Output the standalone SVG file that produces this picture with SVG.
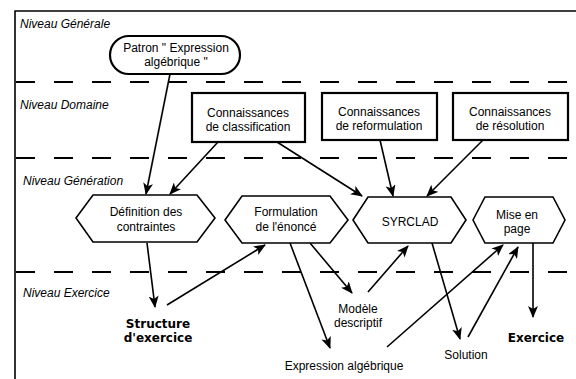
<svg xmlns="http://www.w3.org/2000/svg" width="576" height="379" viewBox="0 0 576 379">
  <style>
    .lvl { font-family: "Liberation Sans", Arial, sans-serif; font-size: 12px; font-style: italic; fill: #000; }
    .lbl { font-family: "Liberation Sans", Arial, sans-serif; font-size: 12px; fill: #000; text-anchor: middle; }
    .bold { font-family: "DejaVu Sans", Verdana, sans-serif; font-size: 12px; font-weight: bold; fill: #000; text-anchor: middle; }
    .sep { stroke: #000; stroke-width: 2; stroke-dasharray: 19 19; fill: none; }
    .box { fill: #fff; stroke: #000; stroke-width: 2.2; }
    .hex { fill: #fff; stroke: #000; stroke-width: 1.6; }
    .edge { stroke: #000; stroke-width: 1.6; fill: none; marker-end: url(#arrow); }
  </style>
  <defs>
    <marker id="arrow" markerWidth="12" markerHeight="10" refX="11" refY="5" orient="auto" markerUnits="userSpaceOnUse">
      <path d="M0,0 L12,5 L0,10 L3,5 z" fill="#000"/>
    </marker>
  </defs>

  <rect width="576" height="379" fill="#fff"/>

  <!-- frame -->
  <path d="M15,379 V11 H576" fill="none" stroke="#000" stroke-width="1.6"/>

  <!-- level separators -->
  <line class="sep" x1="16" y1="82" x2="576" y2="82"/>
  <line class="sep" x1="16" y1="158" x2="576" y2="158"/>
  <line class="sep" x1="16" y1="272" x2="576" y2="272"/>

  <!-- level titles -->
  <text class="lvl" x="20" y="28">Niveau Générale</text>
  <text class="lvl" x="20" y="109">Niveau Domaine</text>
  <text class="lvl" x="23" y="185">Niveau Génération</text>
  <text class="lvl" x="23" y="297">Niveau Exercice</text>

  <!-- connectors -->
  <g id="connectors">
    <line class="edge" x1="170" y1="74" x2="146" y2="194"/>
    <line class="edge" x1="218" y1="142" x2="170" y2="194"/>
    <line class="edge" x1="277" y1="142" x2="362" y2="196"/>
    <line class="edge" x1="380" y1="140" x2="393" y2="196"/>
    <line class="edge" x1="483" y1="140" x2="427" y2="196"/>
    <line class="edge" x1="147" y1="243" x2="155" y2="307"/>
    <line class="edge" x1="167" y1="305" x2="265" y2="245"/>
    <line class="edge" x1="310" y1="243" x2="352" y2="293"/>
    <line class="edge" x1="290" y1="243" x2="330" y2="348"/>
    <line class="edge" x1="368" y1="292" x2="408" y2="246"/>
    <line class="edge" x1="432" y1="243" x2="460" y2="339"/>
    <line class="edge" x1="387" y1="347" x2="503" y2="245"/>
    <line class="edge" x1="468" y1="337" x2="518" y2="247"/>
    <line class="edge" x1="533" y1="243" x2="533" y2="317"/>
  </g>

  <!-- general level -->
  <g id="patron">
    <rect class="box" x="110" y="36" width="130" height="38" rx="19" ry="19" stroke-width="2"/>
    <text class="lbl" x="176" y="52">Patron " Expression</text>
    <text class="lbl" x="176" y="66">algébrique "</text>
  </g>

  <!-- domain level -->
  <g id="classification">
    <rect class="box" x="192" y="93" width="113" height="49"/>
    <text class="lbl" x="248" y="117">Connaissances</text>
    <text class="lbl" x="248" y="131">de classification</text>
  </g>
  <g id="reformulation">
    <rect class="box" x="322" y="93" width="115" height="47"/>
    <text class="lbl" x="379" y="116">Connaissances</text>
    <text class="lbl" x="379" y="130">de reformulation</text>
  </g>
  <g id="resolution">
    <rect class="box" x="453" y="93" width="115" height="47"/>
    <text class="lbl" x="510" y="116">Connaissances</text>
    <text class="lbl" x="510" y="130">de résolution</text>
  </g>

  <!-- generation level -->
  <g id="definition">
    <polygon class="hex" points="76,218 93,195 197,195 215,218 197,242 93,242"/>
    <text class="lbl" x="146" y="216">Définition des</text>
    <text class="lbl" x="146" y="231">contraintes</text>
  </g>
  <g id="formulation">
    <polygon class="hex" points="225,220 242,196 330,196 348,220 330,243 242,243"/>
    <text class="lbl" x="286" y="216">Formulation</text>
    <text class="lbl" x="286" y="231">de l'énoncé</text>
  </g>
  <g id="syrclad">
    <polygon class="hex" points="353,220 368,197 451,197 466,220 451,243 368,243"/>
    <text class="lbl" x="410" y="226">SYRCLAD</text>
  </g>
  <g id="mise-en-page">
    <polygon class="hex" points="473,220 485,197 553,197 565,220 553,243 485,243"/>
    <text class="lbl" x="517" y="219">Mise en</text>
    <text class="lbl" x="517" y="233">page</text>
  </g>

  <!-- exercise level -->
  <g id="structure">
    <text class="bold" x="158" y="328">Structure</text>
    <text class="bold" x="158" y="342">d'exercice</text>
  </g>
  <g id="modele">
    <text class="lbl" x="358" y="313">Modèle</text>
    <text class="lbl" x="358" y="327">descriptif</text>
  </g>
  <g id="expression">
    <text class="lbl" x="344" y="370">Expression algébrique</text>
  </g>
  <g id="solution">
    <text class="lbl" x="466" y="359">Solution</text>
  </g>
  <g id="exercice">
    <text class="bold" x="536" y="342">Exercice</text>
  </g>
</svg>
